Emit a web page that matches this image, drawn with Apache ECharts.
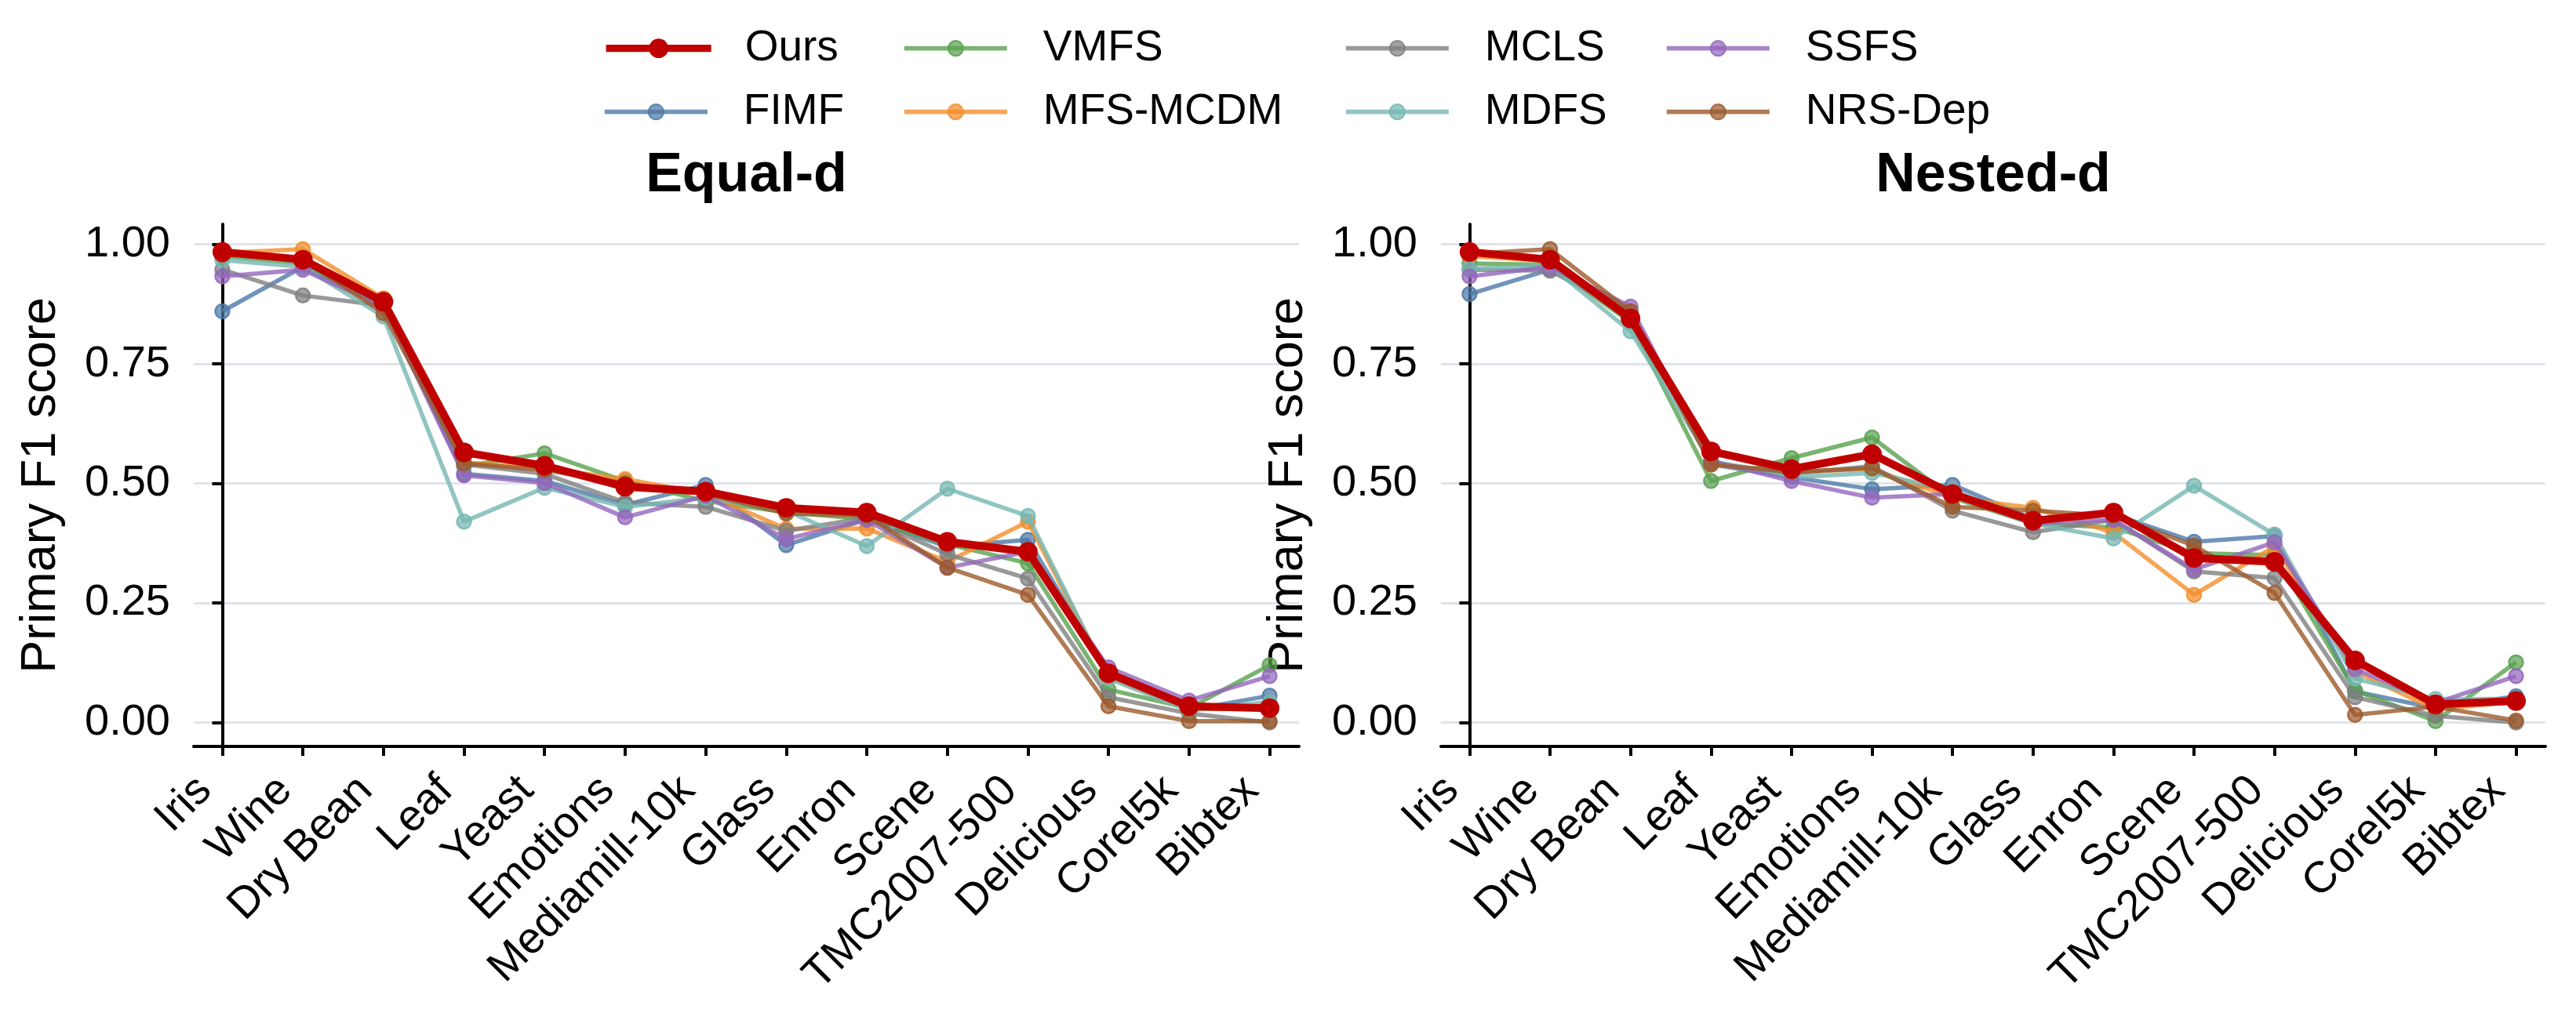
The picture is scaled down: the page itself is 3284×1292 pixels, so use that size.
<!DOCTYPE html>
<html>
<head>
<meta charset="utf-8">
<script src="https://cdn.jsdelivr.net/npm/echarts@6/dist/echarts.min.js"></script>
<style>
html,body{margin:0;padding:0;background:#ffffff;}
#chart{width:3284px;height:1292px;}
</style>
</head>
<body>
<div id="chart"></div>
<script>
// ---------- data ----------
const categories = ['Iris','Wine','Dry Bean','Leaf','Yeast','Emotions','Mediamill-10k','Glass','Enron','Scene','TMC2007-500','Delicious','Corel5k','Bibtex'];
const methods = ['Ours','FIMF','VMFS','MFS-MCDM','MCLS','MDFS','SSFS','NRS-Dep'];
const panelTitles = ['Equal-d','Nested-d'];
const yTickValues = [0, 0.25, 0.5, 0.75, 1.0];
const yAxisTitle = 'Primary F1 score';

// Equal-d
const equalOurs    = [0.984,0.968,0.880,0.565,0.537,0.493,0.483,0.449,0.439,0.378,0.357,0.103,0.034,0.030];
const equalFIMF    = [0.860,0.953,0.875,0.520,0.505,0.455,0.497,0.371,0.425,0.368,0.382,0.100,0.026,0.056];
const equalVMFS    = [0.975,0.960,0.870,0.536,0.563,0.505,0.463,0.440,0.425,0.373,0.333,0.069,0.030,0.120];
const equalMFSMCDM = [0.982,0.990,0.887,0.544,0.532,0.509,0.478,0.405,0.406,0.336,0.420,0.095,0.028,0.030];
const equalMCLS    = [0.947,0.893,0.872,0.540,0.520,0.460,0.451,0.401,0.428,0.352,0.301,0.053,0.019,0.000];
const equalMDFS    = [0.967,0.953,0.849,0.420,0.491,0.451,0.470,0.443,0.369,0.489,0.432,0.092,0.025,0.043];
const equalSSFS    = [0.933,0.947,0.870,0.517,0.501,0.429,0.474,0.384,0.424,0.324,0.357,0.115,0.046,0.097];
const equalNRSDep  = [0.978,0.970,0.856,0.542,0.528,0.500,0.478,0.437,0.433,0.324,0.267,0.034,0.003,0.003];

// Nested-d
const nestedOurs    = [0.984,0.968,0.845,0.567,0.530,0.561,0.478,0.422,0.439,0.344,0.336,0.130,0.038,0.045];
const nestedFIMF    = [0.896,0.947,0.860,0.540,0.513,0.488,0.497,0.425,0.435,0.378,0.390,0.065,0.030,0.055];
const nestedVMFS    = [0.960,0.957,0.837,0.505,0.553,0.596,0.470,0.416,0.408,0.354,0.350,0.067,0.003,0.126];
const nestedMFSMCDM = [0.975,0.965,0.850,0.540,0.524,0.530,0.470,0.449,0.397,0.267,0.368,0.107,0.027,0.044];
const nestedMCLS    = [0.947,0.945,0.855,0.544,0.520,0.536,0.443,0.398,0.424,0.316,0.302,0.053,0.014,0.000];
const nestedMDFS    = [0.949,0.955,0.818,0.547,0.513,0.522,0.486,0.416,0.385,0.495,0.393,0.092,0.049,0.049];
const nestedSSFS    = [0.933,0.953,0.870,0.547,0.505,0.470,0.478,0.416,0.424,0.320,0.377,0.112,0.041,0.097];
const nestedNRSDep  = [0.980,0.990,0.860,0.540,0.524,0.532,0.451,0.443,0.432,0.370,0.271,0.016,0.033,0.004];

const panelData = [
  [equalOurs, equalFIMF, equalVMFS, equalMFSMCDM, equalMCLS, equalMDFS, equalSSFS, equalNRSDep],
  [nestedOurs, nestedFIMF, nestedVMFS, nestedMFSMCDM, nestedMCLS, nestedMDFS, nestedSSFS, nestedNRSDep]
];

// ---------- styles / layout ----------
const colors = ['#C00000','#4E79A7','#59A14F','#F28E2B','#7F7F7F','#76B7B2','#9467BD','#9C5A2C'];
const FONT = 'Liberation Sans, Arial, sans-serif';
const grids = [
  {left: 247, top: 286, width: 1409, height: 666},
  {left: 1837, top: 286, width: 1408, height: 666}
];
const titleCenters = [951.5, 2541];
const legendCols = [768, 1150, 1713, 2122];
const legendRows = [61.7, 142.7];

function rgba(hex, a) {
  const n = parseInt(hex.slice(1), 16);
  return 'rgba(' + ((n >> 16) & 255) + ',' + ((n >> 8) & 255) + ',' + (n & 255) + ',' + a + ')';
}

const xTickValues = categories.map((c, i) => i);

function xAxisFor(idx) {
  return {
    type: 'value', gridIndex: idx, min: -0.355, max: 13.365,
    axisLine: {show: true, onZero: false, lineStyle: {color: '#000', width: 4}},
    axisTick: {show: true, customValues: xTickValues, length: 12, lineStyle: {color: '#000', width: 4}},
    axisLabel: {
      show: true, customValues: xTickValues, rotate: 45, margin: 25,
      padding: [0, 32, 0, 0],
      formatter: v => categories[Math.round(v)],
      fontSize: 56, color: '#000', fontFamily: FONT, hideOverlap: false
    },
    splitLine: {show: false}
  };
}
function yAxisFor(idx) {
  return {
    type: 'value', gridIndex: idx, min: -0.05, max: 1.042,
    name: yAxisTitle, nameLocation: 'middle', nameGap: 163,
    nameTextStyle: {fontSize: 63, color: '#000', fontFamily: FONT},
    axisLine: {show: true, lineStyle: {color: '#000', width: 4}},
    axisTick: {show: true, customValues: yTickValues, length: 13, lineStyle: {color: '#000', width: 4}},
    axisLabel: {
      show: true, customValues: yTickValues, margin: 30,
      formatter: v => v.toFixed(2),
      fontSize: 56, color: '#000', fontFamily: FONT
    },
    splitLine: {show: true, lineStyle: {color: '#E0E4E9', width: 3}}
  };
}

const series = [];
for (let p = 0; p < 2; p++) {
  const order = [1,2,3,4,5,6,7,0];
  order.forEach((m, k) => {
    const isOurs = m === 0;
    series.push({
      type: 'line', name: methods[m], xAxisIndex: p, yAxisIndex: p,
      data: panelData[p][m].map((v, j) => [j, v]),
      symbol: 'circle', symbolSize: isOurs ? 25 : 18, showSymbol: true,
      lineStyle: {color: colors[m], width: isOurs ? 10 : 5.5, opacity: isOurs ? 1 : 0.8},
      itemStyle: isOurs
        ? {color: colors[m], opacity: 1}
        : {color: rgba(colors[m], 0.72), borderColor: rgba(colors[m], 0.85), borderWidth: 2.5, opacity: 1},
      z: isOurs ? 20 : 2 + k,
      silent: true, animation: false,
      emphasis: {disabled: true}
    });
  });
}

const legends = methods.map((name, i) => {
  const col = Math.floor(i / 2), row = i % 2;
  const isOurs = i === 0;
  const iw = isOurs ? 134 : 131;
  return {
    data: [name], orient: 'vertical', selectedMode: false,
    left: legendCols[col], top: legendRows[row] - 27.5, padding: 0,
    itemWidth: iw, itemHeight: isOurs ? 31 : 24,
    lineStyle: {width: isOurs ? 9.3 : 5.7},
    textStyle: {fontSize: 55, color: '#000', fontFamily: FONT, padding: [0, 0, 0, 177 - iw - 5]}
  };
});

const titles = panelTitles.map((t, i) => ({
  text: t, left: titleCenters[i], top: 190, textAlign: 'center', padding: 0,
  textStyle: {fontSize: 70, fontWeight: 'bold', color: '#000', fontFamily: FONT}
}));

const chart = echarts.init(document.getElementById('chart'), null, {renderer: 'canvas'});
chart.setOption({
  backgroundColor: '#ffffff',
  animation: false,
  title: titles,
  legend: legends,
  grid: grids,
  xAxis: [xAxisFor(0), xAxisFor(1)],
  yAxis: [yAxisFor(0), yAxisFor(1)],
  series: series
});
</script>
</body>
</html>
